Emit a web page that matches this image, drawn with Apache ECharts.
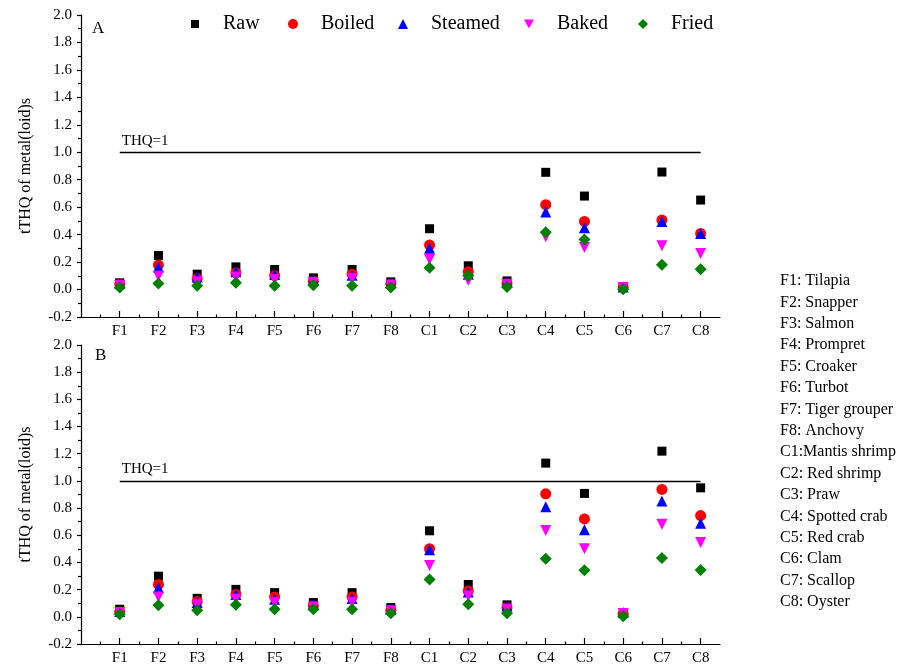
<!DOCTYPE html>
<html>
<head>
<meta charset="utf-8">
<script src="https://cdn.jsdelivr.net/npm/echarts@6/dist/echarts.min.js"></script>
<style>
html,body{margin:0;padding:0;background:#fff;}
#chart{width:915px;height:666px;}
</style>
</head>
<body>
<div id="chart"></div>
<script>
const categories = ['F1','F2','F3','F4','F5','F6','F7','F8','C1','C2','C3','C4','C5','C6','C7','C8'];
const speciesNames = ['F1: Tilapia','F2: Snapper','F3: Salmon','F4: Prompret','F5: Croaker','F6: Turbot','F7: Tiger grouper','F8: Anchovy','C1:Mantis shrimp','C2: Red shrimp','C3: Praw','C4: Spotted crab','C5: Red crab','C6: Clam','C7: Scallop','C8: Oyster'];
const seriesNames = ['Raw','Boiled','Steamed','Baked','Fried'];
const yTicks = [-0.2,0.0,0.2,0.4,0.6,0.8,1.0,1.2,1.4,1.6,1.8,2.0];
const thq = 1;

// Panel A
const rawA     = [0.049,0.248,0.112,0.165,0.146,0.085,0.146,0.056,0.443,0.173,0.063,0.854,0.681,0.019,0.856,0.652];
const boiledA  = [0.040,0.178,0.080,0.122,0.102,0.061,0.112,0.041,0.324,0.129,0.044,0.618,0.496,0.015,0.506,0.409];
const steamedA = [0.044,0.165,0.092,0.129,0.110,0.073,0.105,0.049,0.300,0.112,0.056,0.564,0.450,0.019,0.496,0.409];
const bakedA   = [0.030,0.097,0.056,0.092,0.073,0.051,0.080,0.032,0.219,0.068,0.036,0.384,0.307,0.015,0.319,0.263];
const friedA   = [0.015,0.044,0.027,0.049,0.027,0.032,0.027,0.015,0.158,0.102,0.019,0.418,0.365,0.002,0.180,0.148];

// Panel B
const rawB     = [0.056,0.299,0.136,0.202,0.178,0.105,0.178,0.068,0.633,0.238,0.088,1.131,0.908,0.024,1.219,0.949];
const boiledB  = [0.036,0.238,0.112,0.165,0.146,0.080,0.146,0.049,0.501,0.190,0.068,0.905,0.720,0.019,0.937,0.745];
const steamedB = [0.039,0.214,0.105,0.165,0.129,0.088,0.134,0.056,0.494,0.182,0.080,0.810,0.640,0.032,0.852,0.689];
const bakedB   = [0.032,0.146,0.088,0.129,0.105,0.073,0.105,0.044,0.377,0.153,0.056,0.635,0.501,0.024,0.681,0.547];
const friedB   = [0.019,0.085,0.049,0.088,0.056,0.056,0.056,0.027,0.275,0.092,0.027,0.428,0.343,0.005,0.433,0.345];

const FONT = 'Liberation Serif';
const styles = {
  Raw:     {symbol:'rect', size:9, color:'#000000', rotate:0},
  Boiled:  {symbol:'circle', size:11, color:'#ff0000', rotate:0},
  Steamed: {symbol:'triangle', size:11, color:'#0000ff', rotate:0},
  Baked:   {symbol:'triangle', size:11, color:'#ff00ff', rotate:180},
  Fried:   {symbol:'diamond', size:12, color:'#008000', rotate:0}
};

const majorX = categories.map((c,i)=>i+1);
const minorX = categories.map((c,i)=>i+0.5);

function mainX(gridIndex){
  return {
    type:'value', gridIndex, min:0, max:16.5, interval:1,
    axisLine:{show:true, onZero:false, lineStyle:{color:'#000', width:1.2}},
    axisTick:{show:true, inside:true, length:6, customValues:majorX, lineStyle:{color:'#000', width:1.2}},
    axisLabel:{show:true, customValues:majorX, margin:7, color:'#000', fontFamily:FONT, fontSize:15,
      formatter:(v)=>{const i=Math.round(v)-1; return (Math.abs(v-Math.round(v))<1e-6 && i>=0 && i<categories.length)?categories[i]:'';}},
    splitLine:{show:false}
  };
}
function minorXAxis(gridIndex){
  return {
    type:'value', gridIndex, min:0, max:16.5, interval:1, position:'bottom',
    axisLine:{show:false, onZero:false},
    axisTick:{show:true, inside:true, length:2.5, customValues:minorX, lineStyle:{color:'#000', width:1.2}},
    axisLabel:{show:false},
    splitLine:{show:false}
  };
}
function yAx(gridIndex){
  return {
    type:'value', gridIndex, min:yTicks[0], max:yTicks[yTicks.length-1], interval:0.2,
    name:'tTHQ of metal(loid)s', nameLocation:'middle', nameGap:47,
    nameTextStyle:{color:'#000', fontFamily:FONT, fontSize:16},
    axisLine:{show:true, onZero:false, lineStyle:{color:'#000', width:1.2}},
    axisTick:{show:true, inside:false, length:4, lineStyle:{color:'#000', width:1.2}},
    minorTick:{show:true, splitNumber:2, length:3, lineStyle:{color:'#000', width:1.2}},
    axisLabel:{margin:9, color:'#000', fontFamily:FONT, fontSize:15, formatter:(v)=>v.toFixed(1)},
    splitLine:{show:false}, minorSplitLine:{show:false}
  };
}

function makeSeries(name, arr, xIdx, yIdx){
  const s = styles[name];
  const obj = {
    type:'scatter', name, xAxisIndex:xIdx, yAxisIndex:yIdx,
    symbol:s.symbol, symbolSize:s.size, symbolRotate:s.rotate,
    itemStyle:{color:s.color, opacity:1},
    data: arr.map((v,i)=>[i+1, v]),
    z: 2 + seriesNames.indexOf(name)
  };
  if (name === 'Raw') {
    obj.markLine = {
      silent:true, symbol:['none','none'], animation:false,
      lineStyle:{color:'#000', width:1.3, type:'solid'},
      label:{show:true, position:'insideStartTop', formatter:'THQ=1', color:'#000', fontFamily:FONT, fontSize:15, distance:[2,4]},
      data:[[{coord:[1,thq]},{coord:[categories.length,thq]}]]
    };
  }
  return obj;
}

const panelA = [rawA, boiledA, steamedA, bakedA, friedA];
const panelB = [rawB, boiledB, steamedB, bakedB, friedB];
const series = [];
seriesNames.forEach((n,k)=>series.push(makeSeries(n, panelA[k], 0, 0)));
seriesNames.forEach((n,k)=>series.push(makeSeries(n, panelB[k], 2, 1)));

const legendMarkerX = [195, 293, 403, 529, 643];
const legends = seriesNames.map((n,k)=>{
  const w = styles[n].symbol === 'rect' ? 8 : 10;
  const left = legendMarkerX[k] - w/2;
  const item = styles[n].rotate === 180 ? {name:n, icon:'path://M0,0L10,0L5,9Z'} : {name:n};
  return {
    show:true, data:[item], left:left, top:14, padding:0, orient:'horizontal',
    itemWidth:w, itemHeight:w, selectedMode:false,
    textStyle:{color:'#000', fontFamily:FONT, fontSize:20, lineHeight:20, padding:[0,0,0, (legendMarkerX[k]+28) - (left + w + 5)]}
  };
});

const graphics = [
  {type:'text', left:92, top:20, style:{text:'A', fill:'#000', font:'17px "Liberation Serif"'}},
  {type:'text', left:95, top:347, style:{text:'B', fill:'#000', font:'17px "Liberation Serif"'}}
];
speciesNames.forEach((t,i)=>{
  graphics.push({type:'text', left:780, top:273 + i*21.4, style:{text:t, fill:'#000', font:'16px "Liberation Serif"'}});
});

const chart = echarts.init(document.getElementById('chart'), null, {renderer:'canvas'});
chart.setOption({
  animation:false,
  backgroundColor:'#ffffff',
  textStyle:{fontFamily:FONT},
  grid:[
    {left:81, top:15, width:639, height:302, containLabel:false},
    {left:81, top:345, width:639, height:302, containLabel:false}
  ],
  xAxis:[mainX(0), minorXAxis(0), mainX(1), minorXAxis(1)],
  yAxis:[yAx(0), yAx(1)],
  legend:legends,
  graphic:graphics,
  series:series
});
</script>
</body>
</html>
